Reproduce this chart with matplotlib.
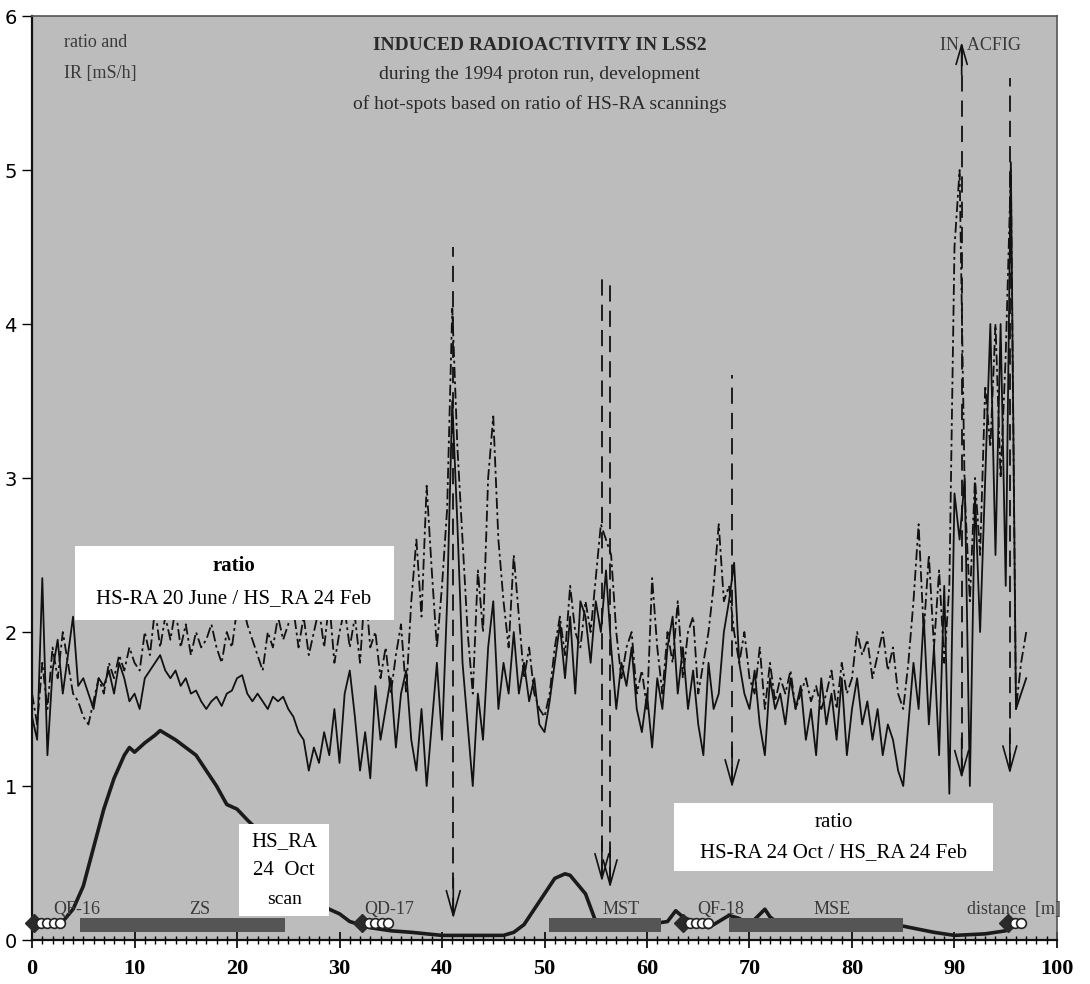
import numpy as np
import matplotlib
matplotlib.use("Agg")
import matplotlib.pyplot as plt
from matplotlib.patches import Rectangle

# ---------------- data ----------------
x_ratio = np.arange(0, 97.01, 0.5)

ratio_oct = [1.45, 1.3, 2.35, 1.2, 1.75, 1.95, 1.6, 1.85, 2.1, 1.65,
             1.7, 1.6, 1.5, 1.7, 1.65, 1.75, 1.6, 1.8, 1.7, 1.55,
             1.6, 1.5, 1.7, 1.75, 1.8, 1.85, 1.75, 1.7, 1.75, 1.65,
             1.7, 1.6, 1.62, 1.55, 1.5, 1.55, 1.58, 1.52, 1.6, 1.62,
             1.7, 1.72, 1.6, 1.55, 1.6, 1.55, 1.5, 1.58, 1.55, 1.58,
             1.5, 1.45, 1.35, 1.3, 1.1, 1.25, 1.15, 1.35, 1.2, 1.5,
             1.15, 1.6, 1.75, 1.45, 1.1, 1.35, 1.05, 1.65, 1.3, 1.5,
             1.7, 1.25, 1.6, 1.75, 1.3, 1.1, 1.5, 1.0, 1.4, 1.8,
             1.3, 2.2, 3.5, 2.7, 1.8, 1.4, 1.0, 1.6, 1.3, 1.9,
             2.2, 1.5, 1.8, 1.6, 2.0, 1.6, 1.8, 1.55, 1.7, 1.4,
             1.35, 1.55, 1.8, 2.05, 1.7, 2.1, 1.6, 2.2, 2.1, 1.8,
             2.2, 2.0, 2.4, 1.9, 1.5, 1.8, 1.65, 1.9, 1.5, 1.35,
             1.6, 1.25, 1.7, 1.5, 1.9, 2.1, 1.6, 1.9, 1.5, 1.75,
             1.4, 1.2, 1.8, 1.5, 1.6, 2.0, 2.2, 2.45, 1.8, 1.6,
             1.5, 1.75, 1.4, 1.2, 1.7, 1.5, 1.6, 1.4, 1.7, 1.5,
             1.65, 1.3, 1.5, 1.2, 1.7, 1.4, 1.6, 1.3, 1.7, 1.2,
             1.5, 1.7, 1.4, 1.55, 1.3, 1.5, 1.2, 1.4, 1.3, 1.1,
             1.0, 1.4, 1.8, 1.5, 2.1, 1.4, 1.9, 1.2, 2.3, 0.95,
             2.9, 2.6, 3.0, 1.0, 2.9, 2.0, 3.0, 4.0, 2.5, 4.0,
             2.3, 5.05, 1.5, 1.6, 1.7]

ratio_june = [1.6, 1.4, 1.8, 1.5, 1.9, 1.7, 2.0, 1.8, 1.6, 1.55,
              1.45, 1.4, 1.55, 1.7, 1.6, 1.8, 1.7, 1.85, 1.75, 1.9,
              1.8, 1.75, 2.0, 1.85, 2.15, 1.9, 2.1, 1.95, 2.15, 1.9,
              2.05, 1.85, 2.0, 1.9, 1.95, 2.05, 1.9, 1.8, 2.0, 1.9,
              2.15, 2.2, 2.05, 1.95, 1.85, 1.75, 2.0, 1.9, 2.1, 1.95,
              2.05, 2.15, 1.9, 2.1, 1.85, 2.0, 2.15, 1.9, 2.2, 1.8,
              2.0, 2.15, 1.9, 2.1, 1.8, 2.3, 1.9, 2.0, 1.7, 1.9,
              1.6, 1.85, 2.05, 1.6, 2.2, 2.6, 2.1, 2.95, 2.4, 1.9,
              2.3, 2.8, 4.1, 3.2, 2.6, 2.0, 1.6, 2.4, 2.0, 3.0,
              3.4, 2.6, 2.2, 1.9, 2.5, 2.1, 1.7, 1.9, 1.6, 1.5,
              1.45, 1.6, 1.9, 2.1, 1.85, 2.3, 2.0, 1.9, 2.2, 2.0,
              2.35, 2.7, 2.6, 2.5, 2.0, 1.7, 1.9, 2.0, 1.6, 1.75,
              1.5, 2.35, 1.9, 1.6, 2.0, 1.8, 2.2, 1.7, 2.0, 2.1,
              1.6, 1.8, 2.0, 2.3, 2.7, 2.2, 2.3, 2.0, 1.8, 2.0,
              1.7, 1.6, 1.9, 1.5, 1.8, 1.55, 1.7, 1.6, 1.75, 1.5,
              1.6, 1.7, 1.55, 1.65, 1.5, 1.6, 1.75, 1.5, 1.8, 1.6,
              1.7, 2.0, 1.85, 1.95, 1.7, 1.85, 2.0, 1.75, 1.9, 1.6,
              1.5, 1.8, 2.2, 2.7, 2.0, 2.5, 1.9, 2.4, 1.8, 2.3,
              4.5, 5.0, 2.9, 2.2, 3.0, 2.5, 3.6, 3.2, 4.0, 3.0,
              3.8, 5.0, 1.5, 1.8, 2.0]

hs_x = [0, 2, 3, 4, 5, 6, 7, 8, 9, 9.5, 10, 11, 12, 12.5, 13, 14, 15, 16, 17,
        18, 19, 20, 21, 23, 25, 27, 28.5, 29, 30, 31, 32, 33, 35, 37, 40, 43,
        46, 47, 48, 49, 50, 51, 52, 52.5, 53, 54, 55, 57, 60, 62, 62.8, 63.5,
        64.5, 66, 67, 68, 69, 70, 71.5, 72, 73, 75, 80, 85, 88, 90, 93, 95, 96]
hs_oct = [0.1, 0.1, 0.12, 0.2, 0.35, 0.6, 0.85, 1.05, 1.2, 1.25, 1.22, 1.28,
          1.33, 1.36, 1.34, 1.3, 1.25, 1.2, 1.1, 1.0, 0.88, 0.85, 0.78, 0.65,
          0.5, 0.35, 0.22, 0.2, 0.17, 0.12, 0.1, 0.08, 0.06, 0.05, 0.03, 0.03,
          0.03, 0.05, 0.1, 0.2, 0.3, 0.4, 0.43, 0.42, 0.38, 0.3, 0.12, 0.1,
          0.1, 0.12, 0.19, 0.15, 0.12, 0.08, 0.12, 0.16, 0.14, 0.1, 0.2, 0.15,
          0.1, 0.1, 0.1, 0.09, 0.05, 0.03, 0.04, 0.06, 0.1]

# hot-spot arrows
arrow_x = [41.1, 55.6, 56.4, 68.3, 90.7, 95.4]
arrow_top = [4.5, 4.33, 4.27, 3.67, 5.8, 5.6]
arrow_tip = [0.12, 0.36, 0.32, 0.97, 1.03, 1.06]

# machine elements
element_names = ["QF-16", "ZS", "QD-17", "MST", "QF-18", "MSE"]
element_label_x = [4.4, 16.4, 34.8, 57.5, 67.2, 78.1]
bar_start = [4.7, 50.4, 68.0]
bar_end = [24.7, 61.4, 85.0]
magnet_x = [0.0, 32.0, 63.3, 95.0]
magnet_rings = [4, 4, 4, 2]

x_ticks = list(range(0, 101, 10))
y_ticks = list(range(0, 7))

# ---------------- figure ----------------
fig = plt.figure(figsize=(10.9, 9.84), dpi=100)
ax = fig.add_axes([0.0294, 0.0447, 0.9403, 0.939])
ax.set_facecolor("#bcbcbc")
ax.set_xlim(0, 100)
ax.set_ylim(0, 6)

serif = ["Liberation Serif", "DejaVu Serif"]

# ratio lines
ax.plot(x_ratio, ratio_june, color="#111111", lw=1.3,
        dashes=(6, 2, 1.5, 2), zorder=3)
ax.plot(x_ratio, ratio_oct, color="#111111", lw=1.3, zorder=4)

# HS_RA scan
ax.plot(hs_x, hs_oct, color="#1a1a1a", lw=2.6, zorder=3)

# bars
for s, e in zip(bar_start, bar_end):
    ax.add_patch(Rectangle((s, 0.05), e - s, 0.09, facecolor="#555555",
                           edgecolor="none", zorder=5))

# magnets
for mx, n in zip(magnet_x, magnet_rings):
    ax.plot([mx + 0.2], [0.11], marker="D", ms=9, color="#2a2a2a", zorder=6,
            clip_on=False)
    rx = [mx + 0.9 + 0.6 * k for k in range(n)]
    ax.plot(rx, [0.11] * n, "o", ms=7, mfc="white", mec="#222222", mew=1.2,
            zorder=6)

# arrows
for x, t, b in zip(arrow_x, arrow_top, arrow_tip):
    ax.plot([x, x], [b + 0.05, t], color="#111111", lw=1.3,
            dashes=(9, 5), zorder=6)
    ax.annotate("", xy=(x, b), xytext=(x, b + 0.3),
                arrowprops=dict(arrowstyle="->,head_length=0.9,head_width=0.25",
                                lw=1.2, color="#111111", mutation_scale=20),
                zorder=6)
ax.annotate("", xy=(arrow_x[4], 5.85), xytext=(arrow_x[4], 5.6),
            arrowprops=dict(arrowstyle="->,head_length=0.7,head_width=0.2",
                            lw=1.2, color="#111111", mutation_scale=20),
            zorder=6)

# white label boxes
boxes = [(4.2, 2.08, 31.1, 0.48), (62.6, 0.45, 31.2, 0.44),
         (20.2, 0.155, 8.8, 0.6)]
for bx, by, bw, bh in boxes:
    ax.add_patch(Rectangle((bx, by), bw, bh, facecolor="white",
                           edgecolor="none", zorder=8))

ax.text(19.7, 2.43, "ratio", ha="center", va="center", fontsize=15,
        family=serif, fontweight="bold", zorder=9)
ax.text(19.7, 2.22, "HS-RA 20 June / HS_RA 24 Feb", ha="center",
        va="center", fontsize=15, family=serif, zorder=9)
ax.text(78.2, 0.76, "ratio", ha="center", va="center", fontsize=15,
        family=serif, zorder=9)
ax.text(78.2, 0.57, "HS-RA 24 Oct / HS_RA 24 Feb", ha="center",
        va="center", fontsize=15, family=serif, zorder=9)
ax.text(24.6, 0.64, "HS_RA", ha="center", va="center", fontsize=15,
        family=serif, zorder=9)
ax.text(24.6, 0.45, "24  Oct", ha="center", va="center", fontsize=15,
        family=serif, zorder=9)
ax.text(24.6, 0.26, "scan", ha="center", va="center", fontsize=14,
        family=serif, zorder=9)

# titles
ax.text(49.5, 5.81, "INDUCED RADIOACTIVITY IN LSS2", ha="center",
        va="center", fontsize=14, fontweight="bold", family=serif,
        color="#2a2a2a", zorder=9)
ax.text(49.5, 5.62, "during the 1994 proton run, development", ha="center",
        va="center", fontsize=14, family=serif, color="#2a2a2a", zorder=9)
ax.text(49.5, 5.43, "of hot-spots based on ratio of HS-RA scannings",
        ha="center", va="center", fontsize=14, family=serif,
        color="#2a2a2a", zorder=9)
ax.text(3.1, 5.83, "ratio and", ha="left", va="center", fontsize=13,
        family=serif, color="#3a3a3a", zorder=9)
ax.text(3.1, 5.63, "IR [mS/h]", ha="left", va="center", fontsize=13,
        family=serif, color="#3a3a3a", zorder=9)
ax.text(92.5, 5.81, "IN  ACFIG", ha="center", va="center", fontsize=13,
        family=serif, color="#3a3a3a", zorder=9)

for name, lx in zip(element_names, element_label_x):
    ax.text(lx, 0.2, name, ha="center", va="center", fontsize=13,
            family=serif, color="#3a3a3a", zorder=7)
ax.text(91.2, 0.2, "distance  [m]", ha="left", va="center", fontsize=13,
        family=serif, color="#3a3a3a", zorder=7, clip_on=False)

# axes styling
ax.set_xticks(x_ticks)
ax.set_xticks(np.arange(0, 101, 1), minor=True)
ax.set_yticks(y_ticks)
ax.set_xticklabels([str(v) for v in x_ticks], family=serif,
                   fontweight="bold", fontsize=16)
ax.set_yticklabels([str(v) for v in y_ticks], family="DejaVu Sans",
                   fontsize=14)
ax.tick_params(axis="x", which="major", direction="inout", length=12,
               width=1.2, pad=8)
ax.tick_params(axis="x", which="minor", direction="inout", length=6,
               width=1.0)
ax.tick_params(axis="y", which="major", direction="out", length=7,
               width=1.0, pad=4)
for side in ["left", "bottom"]:
    ax.spines[side].set_linewidth(1.6)
    ax.spines[side].set_color("#111111")
for side in ["top", "right"]:
    ax.spines[side].set_linewidth(1.2)
    ax.spines[side].set_color("#555555")

fig.savefig("out.png", dpi=100, facecolor="white")
